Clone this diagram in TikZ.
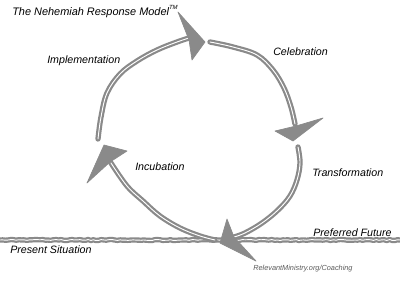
\documentclass[tikz,border=0pt]{standalone}
\usepackage{fontspec}
\setmainfont{Liberation Sans}
\usetikzlibrary{decorations.pathmorphing}
\definecolor{brush}{RGB}{138,138,138}
\definecolor{credit}{RGB}{90,90,90}
\tikzset{
  brushline/.style={draw=brush, line width=1.65pt, double=white, double distance=0.7pt,
    line cap=round, line join=round},
  roughline/.style={brushline, decorate,
    decoration={random steps, segment length=2pt, amplitude=0.35pt}},
  headshape/.style={fill=brush, draw=brush, line width=0.5pt, line join=round},
  lbl/.style={font=\itshape\fontsize{8}{9.6}\selectfont, inner sep=0pt, anchor=west},
}
\begin{document}
\begin{tikzpicture}[x=0.75pt,y=-0.75pt]
\pgfmathsetseed{7}
\useasboundingbox[fill=white] (0,0) rectangle (400,286);

% baseline (present -> future)
\coordinate (lineL) at (0,240);
\coordinate (lineR) at (400,240);
\draw[roughline] (lineL) -- (lineR);

% arc end points
\coordinate (implS) at (98,139);
\coordinate (implE) at (189,38);
\coordinate (celeS) at (210,42);
\coordinate (celeE) at (295,124);
\coordinate (tranS) at (298,147);
\coordinate (tranE) at (234,237);
\coordinate (incuS) at (215,240);
\coordinate (incuE) at (111,163);

% arcs
\draw[brushline] plot[smooth, tension=0.6] coordinates
  {(implS) (101,117) (107,93) (120,74) (137,61) (157,50) (177,42) (implE)};
\draw[brushline] plot[smooth, tension=0.6] coordinates
  {(celeS) (233,47) (257,55) (273,70) (284,88) (291,107) (celeE)};
\draw[brushline] plot[smooth, tension=0.6] coordinates
  {(tranS) (300,163) (297,180) (290,196) (278,210) (262,223) (245,233) (tranE)};
\draw[brushline] plot[smooth, tension=0.6] coordinates
  {(incuS) (200,236) (180,228) (160,216) (143,201) (127,186) (incuE)};

% arrowheads
\path[headshape] (178,12) -- (205,42) -- (192,60) -- (189,40) -- cycle;
\path[headshape] (275,131) -- (293,141) -- (323,118) -- (296,126) -- cycle;
\path[headshape] (227,219) -- (220,243) -- (256,261) -- (234,237) -- cycle;
\path[headshape] (104,145) -- (127,151) -- (110,162) -- (87,183) -- cycle;

% labels
\node[lbl, font=\itshape\fontsize{8.2}{9.8}\selectfont] (title) at (12,11.5)
  {The Nehemiah Response Model\raisebox{0.9ex}{\fontsize{4.5}{5}\selectfont TM}};
\node[lbl] (impl) at (47,61) {Implementation};
\node[lbl] (cele) at (273,52) {Celebration};
\node[lbl] (incu) at (135,167) {Incubation};
\node[lbl] (tran) at (312,173) {Transformation};
\node[lbl] (pref) at (313,233) {Preferred Future};
\node[lbl] (pres) at (10,250) {Present Situation};
\node[lbl, font=\itshape\fontsize{5.5}{6.6}\selectfont, text=credit] (credit) at (253,269)
  {RelevantMinistry.org/Coaching};
\end{tikzpicture}
\end{document}
